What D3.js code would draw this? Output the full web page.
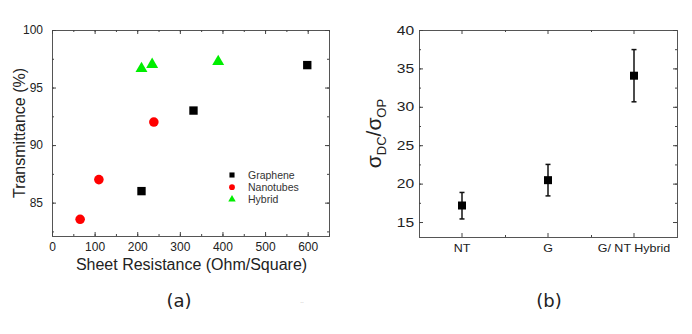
<!DOCTYPE html>
<html>
<head>
<meta charset="utf-8">
<script src="https://cdn.jsdelivr.net/npm/d3@7"></script>
<style>
  body { margin: 0; background: #fff; }
  text { font-family: "Liberation Sans", Arial, sans-serif; fill: #222; }
  .domain { display: none; }
  .tick line { stroke: #444; }
</style>
</head>
<body>
<div id="chart"></div>
<script>
// panel (a) data - sheet resistance vs transmittance
var grapheneR = [210, 332, 599];
var grapheneT = [86.0, 93.0, 96.95];
var nanotubeR = [66, 110, 239];
var nanotubeT = [83.55, 87.0, 92.0];
var hybridR = [210, 235, 390];
var hybridT = [96.65, 97.0, 97.25];
var xTicksA = [0, 100, 200, 300, 400, 500, 600];
var yTicksA = [85, 90, 95, 100];
var legendNames = ["Graphene", "Nanotubes", "Hybrid"];

// panel (b) data - sigma ratio with error bars
var ratioCats = ["NT", "G", "G/ NT Hybrid"];
var ratioVals = [17.15, 20.45, 34.05];
var ratioLow = [15.4, 18.4, 30.65];
var ratioHigh = [18.85, 22.5, 37.45];
var yTicksB = [15, 20, 25, 30, 35, 40];

var svgwdth = 692;
var svghght = 334;

var svg = d3.select("#chart")
  .append("svg")
  .attr("width", svgwdth)
  .attr("height", svghght);

//------ panel (a) ------//
var boxA = {left: 52, right: 329, top: 30, bottom: 236};

var xA = d3.scaleLinear().domain([0, 650]).range([boxA.left, boxA.right]);
var yA = d3.scaleLinear().domain([82.1, 100]).range([boxA.bottom, boxA.top]);

// minor ticks every 50 / 2.5
var minorXA = d3.range(0, 651, 50);
var minorYA = d3.range(82.5, 100.1, 2.5);

drawFrame(boxA);

svg.append("g").attr("transform", `translate(0,${boxA.bottom})`)
  .call(d3.axisBottom(xA).tickValues(minorXA).tickSize(-2).tickFormat(""));
svg.append("g").attr("transform", `translate(0,${boxA.top})`)
  .call(d3.axisTop(xA).tickValues(minorXA).tickSize(-2).tickFormat(""));
svg.append("g").attr("transform", `translate(${boxA.left},0)`)
  .call(d3.axisLeft(yA).tickValues(minorYA).tickSize(-2).tickFormat(""));
svg.append("g").attr("transform", `translate(${boxA.right},0)`)
  .call(d3.axisRight(yA).tickValues(minorYA).tickSize(-2).tickFormat(""));

var xAxisA = svg.append("g").attr("transform", `translate(0,${boxA.bottom})`)
  .call(d3.axisBottom(xA).tickValues(xTicksA).tickSize(-4).tickPadding(6));
var yAxisA = svg.append("g").attr("transform", `translate(${boxA.left},0)`)
  .call(d3.axisLeft(yA).tickValues(yTicksA).tickSize(-4).tickPadding(9));
svg.append("g").attr("transform", `translate(0,${boxA.top})`)
  .call(d3.axisTop(xA).tickValues(xTicksA).tickSize(-4).tickFormat(""));
svg.append("g").attr("transform", `translate(${boxA.right},0)`)
  .call(d3.axisRight(yA).tickValues(yTicksA).tickSize(-4).tickFormat(""));

xAxisA.selectAll("text").style("font-size", "12px");
yAxisA.selectAll("text").style("font-size", "12px");

var seriesA = [
  {r: grapheneR, t: grapheneT, shape: d3.symbolSquare, size: 70, color: "#000"},
  {r: nanotubeR, t: nanotubeT, shape: d3.symbolCircle, size: 72, color: "#ff0000"},
  {r: hybridR, t: hybridT, shape: d3.symbolTriangle, size: 62, color: "#00ee00"}
];

seriesA.forEach(function(s) {
  svg.append("g").selectAll("path")
    .data(s.r)
    .enter()
    .append("path")
    .attr("transform", (d, i) => `translate(${xA(d)},${yA(s.t[i])})`)
    .attr("d", d3.symbol().type(s.shape).size(s.size))
    .attr("fill", s.color);
});

// legend
var legend = svg.append("g").attr("transform", "translate(232,175)");
legendNames.forEach(function(name, i) {
  legend.append("path")
    .attr("transform", `translate(0,${i * 12.2})`)
    .attr("d", d3.symbol().type(seriesA[i].shape).size(i == 2 ? 24 : 26))
    .attr("fill", seriesA[i].color);
  legend.append("text")
    .attr("x", 16)
    .attr("y", i * 12.2 + 4)
    .style("font-size", "10.5px")
    .style("fill", "#333")
    .text(name);
});

svg.append("text")
  .attr("x", (boxA.left + boxA.right) / 2 + 1)
  .attr("y", 270)
  .attr("text-anchor", "middle")
  .style("font-size", "16px")
  .text("Sheet Resistance (Ohm/Square)");

svg.append("text")
  .attr("transform", `translate(25,${(boxA.top + boxA.bottom) / 2}) rotate(-90)`)
  .attr("text-anchor", "middle")
  .style("font-size", "16px")
  .text("Transmittance (%)");

svg.append("text")
  .attr("x", 179)
  .attr("y", 307)
  .attr("text-anchor", "middle")
  .style("font-family", "DejaVu Sans")
  .style("font-size", "18px")
  .text("(a)");

svg.append("text")
  .attr("x", 302)
  .attr("y", 303)
  .attr("text-anchor", "middle")
  .style("font-size", "6px")
  .style("fill", "#999")
  .text("..");

//------ panel (b) ------//
var boxB = {left: 419, right: 677, top: 30, bottom: 237};

var xB = d3.scaleBand().domain(ratioCats).range([boxB.left, boxB.right]);
var yB = d3.scaleLinear().domain([13.05, 40]).range([boxB.bottom, boxB.top]);
var minorYB = d3.range(15, 40.1, 2.5);

drawFrame(boxB);

svg.append("g").attr("transform", `translate(${boxB.left},0)`)
  .call(d3.axisLeft(yB).tickValues(minorYB).tickSize(-2).tickFormat(""));
svg.append("g").attr("transform", `translate(${boxB.right},0)`)
  .call(d3.axisRight(yB).tickValues(minorYB).tickSize(-2).tickFormat(""));

var xAxisB = svg.append("g").attr("transform", `translate(0,${boxB.bottom})`)
  .call(d3.axisBottom(xB).tickSize(-4).tickPadding(8));
svg.append("g").attr("transform", `translate(0,${boxB.top})`)
  .call(d3.axisTop(xB).tickSize(-4).tickFormat(""));
var yAxisB = svg.append("g").attr("transform", `translate(${boxB.left},0)`)
  .call(d3.axisLeft(yB).tickValues(yTicksB).tickSize(-4).tickPadding(4));
svg.append("g").attr("transform", `translate(${boxB.right},0)`)
  .call(d3.axisRight(yB).tickValues(yTicksB).tickSize(-4).tickFormat(""));

xAxisB.selectAll("text").style("font-size", "10px").attr("transform", "scale(1.25,1)");
yAxisB.selectAll("text").style("font-size", "13px").attr("transform", "scale(1.2,1)");

// minor x ticks on the category boundaries
ratioCats.slice(1).forEach(function(c) {
  svg.append("line")
    .attr("x1", Math.round(xB(c)) + 0.5).attr("x2", Math.round(xB(c)) + 0.5)
    .attr("y1", boxB.bottom).attr("y2", boxB.bottom - 2)
    .attr("stroke", "#444");
  svg.append("line")
    .attr("x1", Math.round(xB(c)) + 0.5).attr("x2", Math.round(xB(c)) + 0.5)
    .attr("y1", boxB.top).attr("y2", boxB.top + 2)
    .attr("stroke", "#444");
});

var cx = c => xB(c) + xB.bandwidth() / 2;

var errG = svg.append("g").selectAll("g")
  .data(ratioCats)
  .enter()
  .append("g");

errG.append("line")
  .attr("x1", d => cx(d)).attr("x2", d => cx(d))
  .attr("y1", (d, i) => yB(ratioLow[i])).attr("y2", (d, i) => yB(ratioHigh[i]))
  .attr("stroke", "#111").attr("stroke-width", 1.5);
errG.append("line")
  .attr("x1", d => cx(d) - 2.5).attr("x2", d => cx(d) + 2.5)
  .attr("y1", (d, i) => yB(ratioLow[i])).attr("y2", (d, i) => yB(ratioLow[i]))
  .attr("stroke", "#111").attr("stroke-width", 1.5);
errG.append("line")
  .attr("x1", d => cx(d) - 2.5).attr("x2", d => cx(d) + 2.5)
  .attr("y1", (d, i) => yB(ratioHigh[i])).attr("y2", (d, i) => yB(ratioHigh[i]))
  .attr("stroke", "#111").attr("stroke-width", 1.5);
errG.append("path")
  .attr("transform", (d, i) => `translate(${cx(d)},${yB(ratioVals[i])})`)
  .attr("d", d3.symbol().type(d3.symbolSquare).size(64))
  .attr("fill", "#000");

// sigma_DC / sigma_OP label
var sigLabel = svg.append("text")
  .attr("transform", `translate(381,${(boxB.top + boxB.bottom) / 2}) rotate(-90)`)
  .attr("text-anchor", "middle")
  .style("font-size", "21px");
sigLabel.append("tspan").text("σ");
sigLabel.append("tspan").attr("dy", 5).style("font-size", "13px").text("DC");
sigLabel.append("tspan").attr("dy", -5).text("/σ");
sigLabel.append("tspan").attr("dy", 5).style("font-size", "13px").text("OP");

svg.append("text")
  .attr("x", 549)
  .attr("y", 307)
  .attr("text-anchor", "middle")
  .style("font-family", "DejaVu Sans")
  .style("font-size", "18px")
  .text("(b)");

function drawFrame(box) {
  svg.append("rect")
    .attr("x", box.left + 0.5)
    .attr("y", box.top + 0.5)
    .attr("width", box.right - box.left)
    .attr("height", box.bottom - box.top)
    .attr("fill", "none")
    .attr("stroke", "#555");
}
</script>
</body>
</html>
